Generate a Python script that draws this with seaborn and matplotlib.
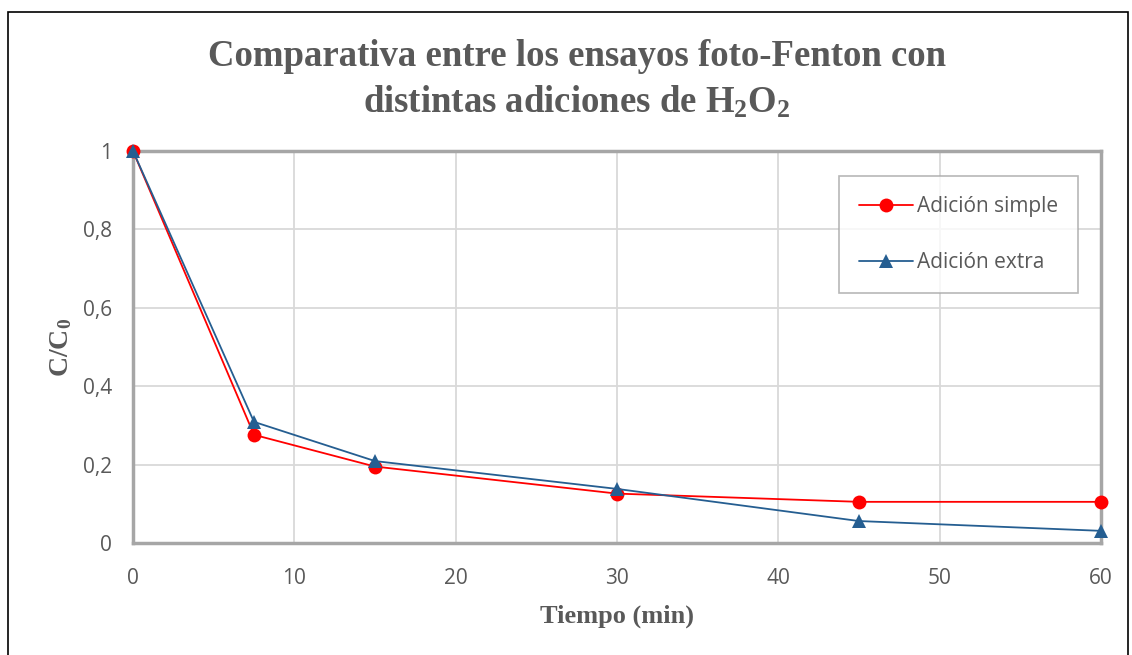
import matplotlib
matplotlib.use("Agg")
import matplotlib.pyplot as plt
import seaborn as sns
import pandas as pd
from matplotlib.patches import Rectangle

# datos
tiempo = [0, 7.5, 15, 30, 45, 60]
simple = [1.0, 0.276, 0.195, 0.126, 0.105, 0.105]
extra = [1.0, 0.309, 0.209, 0.138, 0.056, 0.031]
x_ticks = [0, 10, 20, 30, 40, 50, 60]
y_ticks = [0, 0.2, 0.4, 0.6, 0.8, 1.0]
y_labels = ["0", "0,2", "0,4", "0,6", "0,8", "1"]

sns.set_style("white")
plt.rcParams['font.family'] = ['Open Sans', 'DejaVu Sans']
plt.rcParams['mathtext.fontset'] = 'custom'
plt.rcParams['mathtext.rm'] = 'Liberation Serif:bold'
plt.rcParams['mathtext.bf'] = 'Liberation Serif:bold'
plt.rcParams['mathtext.it'] = 'Liberation Serif:bold'

grey = "#595959"
df = pd.DataFrame({"t": tiempo, "simple": simple, "extra": extra})

fig = plt.figure(figsize=(11.32, 6.55), dpi=100)
ax = fig.add_axes([133/1132, 1-543/655, (1101-133)/1132, (543-151)/655])

sns.lineplot(data=df, x="t", y="simple", ax=ax, color="#FF0000", lw=1.3,
             marker="o", markersize=10, markeredgewidth=0, label="Adición simple",
             clip_on=False, zorder=4)
sns.lineplot(data=df, x="t", y="extra", ax=ax, color="#255E91", lw=1.3,
             marker="^", markersize=10, markeredgewidth=0, label="Adición extra",
             clip_on=False, zorder=5)

ax.set_xlim(0, 60)
ax.set_ylim(0, 1)
ax.set_xticks(x_ticks)
ax.set_xticklabels([str(v) for v in x_ticks])
ax.set_yticks(y_ticks)
ax.set_yticklabels(y_labels)
ax.tick_params(axis="both", labelsize=15, colors=grey, length=0)
ax.tick_params(axis="x", pad=18)
ax.tick_params(axis="y", pad=15)
ax.grid(True, color="#D9D9D9", lw=1.3)
for s in ax.spines.values():
    s.set_visible(True)
    s.set_color("#A6A6A6")
    s.set_linewidth(2.5)

ax.set_xlabel("Tiempo (min)", family="Liberation Serif", fontweight="bold",
              fontsize=19, color=grey, labelpad=11)
ax.set_ylabel("C/C$_0$", family="Liberation Serif", fontweight="bold",
              fontsize=20, color=grey, labelpad=6)

leg = ax.legend(loc="upper right", bbox_to_anchor=(945/968, 367/392),
                frameon=True, fancybox=False, fontsize=15, labelspacing=1.7,
                borderpad=0.95, handlelength=2.6, handletextpad=0.2,
                borderaxespad=0)
leg.get_frame().set_edgecolor("#A6A6A6")
leg.get_frame().set_linewidth(1.2)
for t in leg.get_texts():
    t.set_color(grey)

fig.text(577/1132, 1-57/655, "Comparativa entre los ensayos foto-Fenton con",
         ha="center", va="center", family="Liberation Serif", fontweight="bold",
         fontsize=26.5, color=grey)
fig.text(577/1132, 1-102/655, "distintas adiciones de H$_2$O$_2$",
         ha="center", va="center", family="Liberation Serif", fontweight="bold",
         fontsize=26.5, color=grey)

fig.patches.append(Rectangle((8/1132, -0.02), 1120/1132, 1-12/655 + 0.02,
                             transform=fig.transFigure, fill=False,
                             edgecolor="black", lw=1.2))

fig.savefig("out.png", dpi=100)
